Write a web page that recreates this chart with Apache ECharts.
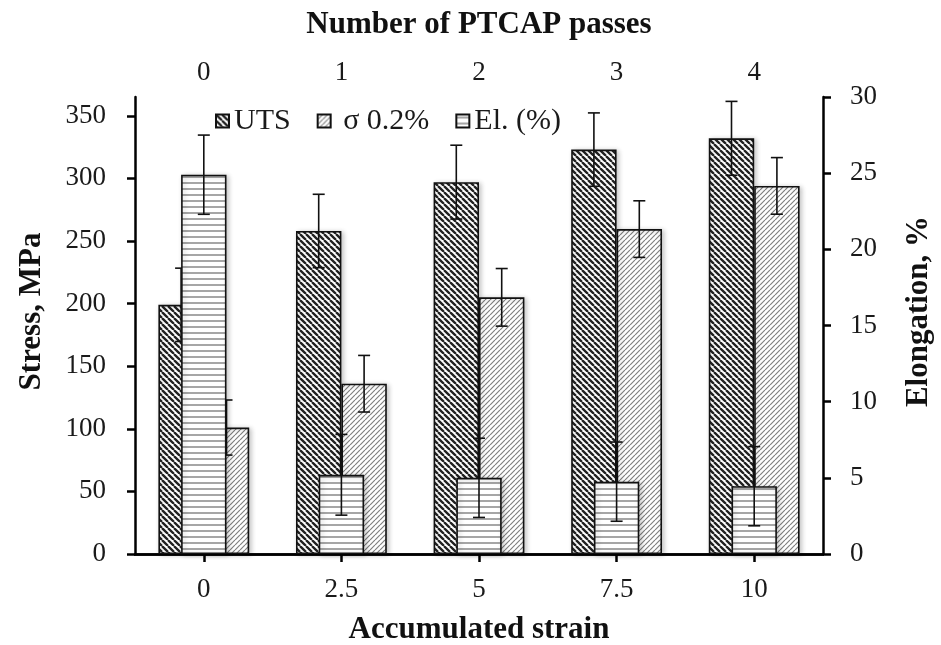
<!DOCTYPE html>
<html>
<head>
<meta charset="utf-8">
<script src="https://cdn.jsdelivr.net/npm/echarts@6/dist/echarts.min.js"></script>
<style>
html,body{margin:0;padding:0;background:#fff;}
#chart{width:941px;height:645px;}
</style>
</head>
<body>
<div id="chart"></div>
<script>
// ---- data ----
const strainCats = ['0', '2.5', '5', '7.5', '10'];
const passCats = ['0', '1', '2', '3', '4'];
const seriesNames = ['UTS', 'σ 0.2%', 'El. (%)'];
const utsValues = [199, 258, 297, 323, 332];
const utsErr = [29.3, 29.3, 29.5, 29.3, 29.5];
const ysValues = [101, 136, 205, 259.5, 294];
const ysErr = [22, 22.6, 23, 22.6, 22.6];
const elValues = [24.9, 5.2, 5.0, 4.75, 4.45];
const elErr = [2.6, 2.65, 2.6, 2.6, 2.6];
const stressTicks = [0, 50, 100, 150, 200, 250, 300, 350];
const elongTicks = [0, 5, 10, 15, 20, 25, 30];

// ---- hatch patterns ----
function hatch(kind, size, color, lw) {
  const c = document.createElement('canvas');
  c.width = size; c.height = size;
  const g = c.getContext('2d');
  g.fillStyle = '#fff';
  g.fillRect(0, 0, size, size);
  g.strokeStyle = color;
  g.lineWidth = lw;
  g.beginPath();
  if (kind === 'back') {
    for (const k of [-size, 0, size]) { g.moveTo(k, 0); g.lineTo(k + size, size); }
  } else if (kind === 'fwd') {
    for (const k of [-size, 0, size]) { g.moveTo(k, size); g.lineTo(k + size, 0); }
  } else {
    g.moveTo(0, size / 2); g.lineTo(size, size / 2);
  }
  g.stroke();
  return { image: c, repeat: 'repeat' };
}
const utsFill = hatch('back', 6, '#222', 2.3);
const ysFill = hatch('fwd', 5, '#808080', 1.2);
const elFill = hatch('horiz', 6, '#6a6a6a', 1.2);

const FONT = '"Liberation Serif", "Times New Roman", serif';
const BAR_W = 0.33;

function errItems(vals, errs) {
  return vals.map((v, i) => [i, v - errs[i], v + errs[i]]);
}
function errRender(offsetFrac) {
  return function (params, api) {
    const x = api.value(0), lo = api.value(1), hi = api.value(2);
    const band = api.size([1, 0])[0];
    const cx = api.coord([x, 0])[0] + offsetFrac * band;
    const yLo = api.coord([x, lo])[1], yHi = api.coord([x, hi])[1];
    const h = 6;
    const st = { stroke: '#111', lineWidth: 1.6 };
    return {
      type: 'group',
      children: [
        { type: 'line', shape: { x1: cx, y1: yHi, x2: cx, y2: yLo }, style: st },
        { type: 'line', shape: { x1: cx - h, y1: yHi, x2: cx + h, y2: yHi }, style: st },
        { type: 'line', shape: { x1: cx - h, y1: yLo, x2: cx + h, y2: yLo }, style: st }
      ]
    };
  };
}

const barStyle = (fill) => ({
  color: fill,
  borderColor: '#111',
  borderWidth: 1.6,
  shadowColor: 'rgba(0,0,0,0.22)',
  shadowBlur: 5,
  shadowOffsetX: 2,
  shadowOffsetY: 1
});

const axisLineStyle = { show: true, lineStyle: { color: '#000', width: 2.5 } };
const tickStyle = { show: true, length: 8, lineStyle: { color: '#000', width: 2.5 } };
const labelStyle = { color: '#1a1a1a', fontFamily: FONT, fontSize: 27 };
const nameStyle = { color: '#111', fontFamily: FONT, fontSize: 31, fontWeight: 'bold' };

const chart = echarts.init(document.getElementById('chart'), null, { renderer: 'canvas' });
chart.setOption({
  animation: false,
  backgroundColor: '#fff',
  grid: { left: 135, right: 118, top: 97, bottom: 91, containLabel: false, outerBoundsMode: 'none' },
  legend: {
    data: seriesNames.map(n => ({ name: n, icon: 'rect' })),
    left: 210, top: 101,
    itemWidth: 13, itemHeight: 13, itemGap: 26,
    formatter: (name) => (name === seriesNames[1] ? ' ' + name : name),
    textStyle: { fontFamily: FONT, fontSize: 30, color: '#1a1a1a' }
  },
  xAxis: [
    {
      type: 'category', data: strainCats, position: 'bottom',
      axisLine: axisLineStyle, axisTick: Object.assign({ alignWithLabel: true }, tickStyle),
      axisLabel: Object.assign({ margin: 22 }, labelStyle),
      name: 'Accumulated strain', nameLocation: 'middle', nameGap: 60, nameTextStyle: nameStyle,
      splitLine: { show: false }
    },
    {
      type: 'category', data: passCats, position: 'top',
      axisLine: axisLineStyle, axisTick: Object.assign({ alignWithLabel: true }, tickStyle),
      axisLabel: Object.assign({ margin: 11 }, labelStyle),
      name: 'Number of PTCAP passes', nameLocation: 'middle', nameGap: 57, nameTextStyle: nameStyle,
      splitLine: { show: false }
    }
  ],
  yAxis: [
    {
      type: 'value', position: 'left', min: 0, max: 365, interval: 50,
      axisLine: axisLineStyle,
      axisTick: Object.assign({ customValues: stressTicks }, tickStyle),
      axisLabel: Object.assign({ margin: 29, customValues: stressTicks }, labelStyle),
      splitLine: { show: false },
      name: 'Stress, MPa', nameLocation: 'middle', nameGap: 88, nameRotate: 90,
      nameTextStyle: Object.assign({ padding: [0, 0, 0, 28] }, nameStyle)
    },
    {
      type: 'value', position: 'right', min: 0, max: 30, interval: 5,
      axisLine: axisLineStyle,
      axisTick: Object.assign({ customValues: elongTicks }, tickStyle),
      axisLabel: Object.assign({ margin: 27, customValues: elongTicks }, labelStyle),
      splitLine: { show: false },
      name: 'Elongation, %', nameLocation: 'middle', nameGap: 80, nameRotate: 90,
      nameTextStyle: Object.assign({ padding: [0, 0, 0, 28] }, nameStyle)
    }
  ],
  series: [
    {
      name: seriesNames[0], type: 'bar', xAxisIndex: 0, yAxisIndex: 0, z: 2,
      data: utsValues, barWidth: (BAR_W * 100) + '%', barGap: '0%',
      itemStyle: barStyle(utsFill)
    },
    {
      name: seriesNames[1], type: 'bar', xAxisIndex: 0, yAxisIndex: 0, z: 2,
      data: ysValues, barWidth: (BAR_W * 100) + '%', barGap: '0%',
      itemStyle: barStyle(ysFill)
    },
    {
      name: 'utsErr', type: 'custom', xAxisIndex: 0, yAxisIndex: 0, z: 3,
      data: errItems(utsValues, utsErr), renderItem: errRender(-BAR_W / 2),
      encode: { x: 0, y: [1, 2] }, silent: true
    },
    {
      name: 'ysErr', type: 'custom', xAxisIndex: 0, yAxisIndex: 0, z: 3,
      data: errItems(ysValues, ysErr), renderItem: errRender(BAR_W / 2),
      encode: { x: 0, y: [1, 2] }, silent: true
    },
    {
      name: seriesNames[2], type: 'bar', xAxisIndex: 1, yAxisIndex: 1, z: 4,
      data: elValues, barWidth: (BAR_W * 100) + '%',
      itemStyle: barStyle(elFill)
    },
    {
      name: 'elErr', type: 'custom', xAxisIndex: 1, yAxisIndex: 1, z: 5,
      data: errItems(elValues, elErr), renderItem: errRender(0),
      encode: { x: 0, y: [1, 2] }, silent: true
    }
  ]
});
</script>
</body>
</html>
